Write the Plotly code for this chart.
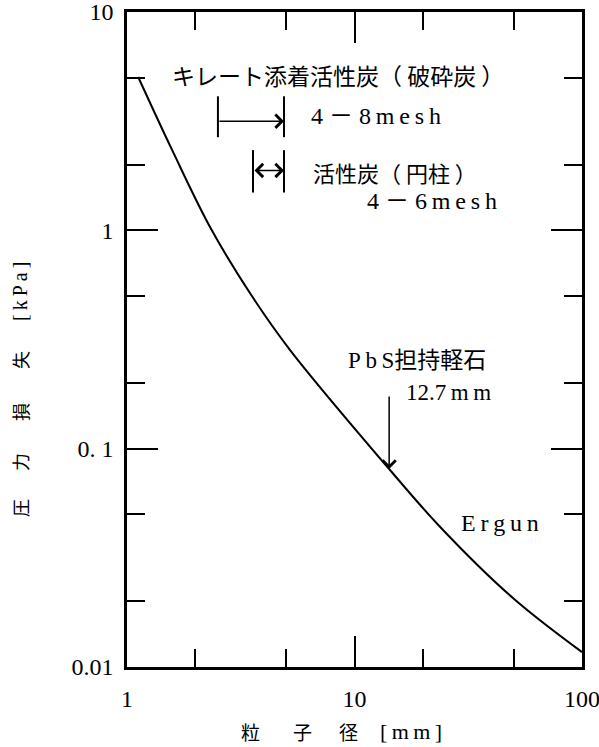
import math
import plotly.graph_objects as go

# ---- data ----
d_mm = [1.12, 1.58, 2.33, 3.54, 5.21, 14.2, 23.8, 49.7, 100]
dp_kpa = [5.04, 2.33, 1.025, 0.500, 0.283, 0.0807, 0.0438, 0.0207, 0.0117]

chelate_range = [2.51, 4.90]      # 4-8 mesh bracket as drawn
carbon_range = [3.58, 4.90]       # 4-6 mesh bracket as drawn
pbs_size = 14.2                   # arrow position as drawn
pbs_dp = 0.0807

x_tickvals = [1, 10, 100]
x_ticktext = ["1", "10", "100"]
x_minor = [2, 5, 20, 50]
y_tickvals = [0.01, 0.1, 1, 10]
y_ticktext = ["0.01", "0. 1", "1", "10"]
y_minor = [0.02, 0.05, 0.2, 0.5, 2, 5]

# ---- layout geometry (pixels) ----
W, H = 599, 747
L, R, T, B = 127, 582, 12, 667


def px(xp):
    return (xp - L) / (R - L)


def py(yp):
    return (B - yp) / (B - T)


SERIF = "Liberation Serif, Noto Sans CJK JP"
CJK = "Noto Sans CJK JP"

fig = go.Figure()
fig.add_trace(go.Scatter(x=d_mm, y=dp_kpa, mode="lines",
                         line=dict(color="black", width=2, shape="spline", smoothing=1.0),
                         hoverinfo="skip", showlegend=False))

# bracket bars
bar1_y = [2.67, 4.11]
bar2_y = [1.49, 2.33]
bx, by = [], []
for xv in chelate_range:
    bx += [xv, xv, None]
    by += [bar1_y[0], bar1_y[1], None]
for xv in carbon_range:
    bx += [xv, xv, None]
    by += [bar2_y[0], bar2_y[1], None]
fig.add_trace(go.Scatter(x=bx, y=by, mode="lines", line=dict(color="black", width=2),
                         hoverinfo="skip", showlegend=False))

ann = []
# arrows
ann.append(dict(x=math.log10(chelate_range[1]), y=math.log10(3.16), xref="x", yref="y",
                ax=math.log10(chelate_range[0]), ay=math.log10(3.16), axref="x", ayref="y",
                text="", showarrow=True, arrowhead=4, arrowsize=1.7, arrowwidth=1.5,
                arrowcolor="black", standoff=0, startstandoff=0))
ann.append(dict(x=math.log10(carbon_range[1]), y=math.log10(1.88), xref="x", yref="y",
                ax=math.log10(carbon_range[0]), ay=math.log10(1.88), axref="x", ayref="y",
                text="", showarrow=True, arrowhead=4, startarrowhead=4, arrowside="end+start",
                arrowsize=1.7, startarrowsize=1.7, arrowwidth=1.5,
                arrowcolor="black", standoff=0, startstandoff=0))
ann.append(dict(x=math.log10(pbs_size), y=math.log10(pbs_dp), xref="x", yref="y",
                ax=0, ay=-74, text="", showarrow=True, arrowhead=4, arrowsize=1.7,
                arrowwidth=1.5, arrowcolor="black", standoff=0))


def txt(s, xp, yp, size, fam=SERIF, anchor="left", angle=0):
    ann.append(dict(text=s, x=px(xp), y=py(yp), xref="paper", yref="paper",
                    xanchor=anchor, yanchor="middle", showarrow=False, textangle=angle,
                    font=dict(family=fam, size=size, color="black")))


txt("キレート添着活性炭（ 破砕炭 ）", 170, 75, 23, CJK)
txt("4 － 8\u2009m\u2009e\u2009s\u2009h", 309, 116, 24)
txt("活性炭（ 円柱 ）", 311, 172, 22, CJK)
txt("4 － 6\u2009m\u2009e\u2009s\u2009h", 365, 201, 24)
txt("P\u2009b\u2009S担持軽石", 346, 361, 23)
txt("12.7\u2009m\u2009m", 404, 392, 23)
txt("E\u2009r\u2009g\u2009u\u2009n", 459, 523, 24)

# y-axis title (rotated pieces)
txt("[\u2009k\u2009P\u2009a\u2009]", 20, 292, 20, anchor="center", angle=-90)
for ch, yp in [("失", 360), ("損", 412), ("力", 462), ("圧", 508)]:
    txt(ch, 20, yp, 18, CJK, anchor="center", angle=-90)

# x-axis title
for ch, xp in [("粒", 250), ("子", 302), ("径", 348)]:
    txt(ch, xp, 731, 19, CJK, anchor="center")
txt("[\u2009m\u2009m\u2009]", 411, 731, 22, anchor="center")

axis_common = dict(
    type="log", showgrid=False, zeroline=False, automargin=False,
    showline=True, linecolor="black", linewidth=2.5, mirror="allticks",
    ticks="inside", ticklen=31, tickwidth=1.5, tickcolor="black",
    tickfont=dict(family=SERIF, size=24, color="black"),
    ticklabeloverflow="allow",
)

fig.update_layout(
    width=W, height=H, autosize=False,
    margin=dict(l=L, r=W - R, t=T, b=H - B, autoexpand=False),
    paper_bgcolor="white", plot_bgcolor="white",
    showlegend=False,
    xaxis=dict(range=[0, 2], tickvals=x_tickvals, ticktext=x_ticktext,
               ticklabelstandoff=8,
               minor=dict(tickvals=x_minor, ticks="inside", ticklen=18, tickwidth=1.5,
                          tickcolor="black", showgrid=False),
               **axis_common),
    yaxis=dict(range=[-2, 1], tickvals=y_tickvals, ticktext=y_ticktext,
               ticklabelstandoff=6,
               minor=dict(tickvals=y_minor, ticks="inside", ticklen=18, tickwidth=1.5,
                          tickcolor="black", showgrid=False),
               **axis_common),
    annotations=ann,
)

fig.write_html("out.html", config={"displayModeBar": False},
               post_script="document.body.style.margin='0px';document.body.style.padding='0px';")
